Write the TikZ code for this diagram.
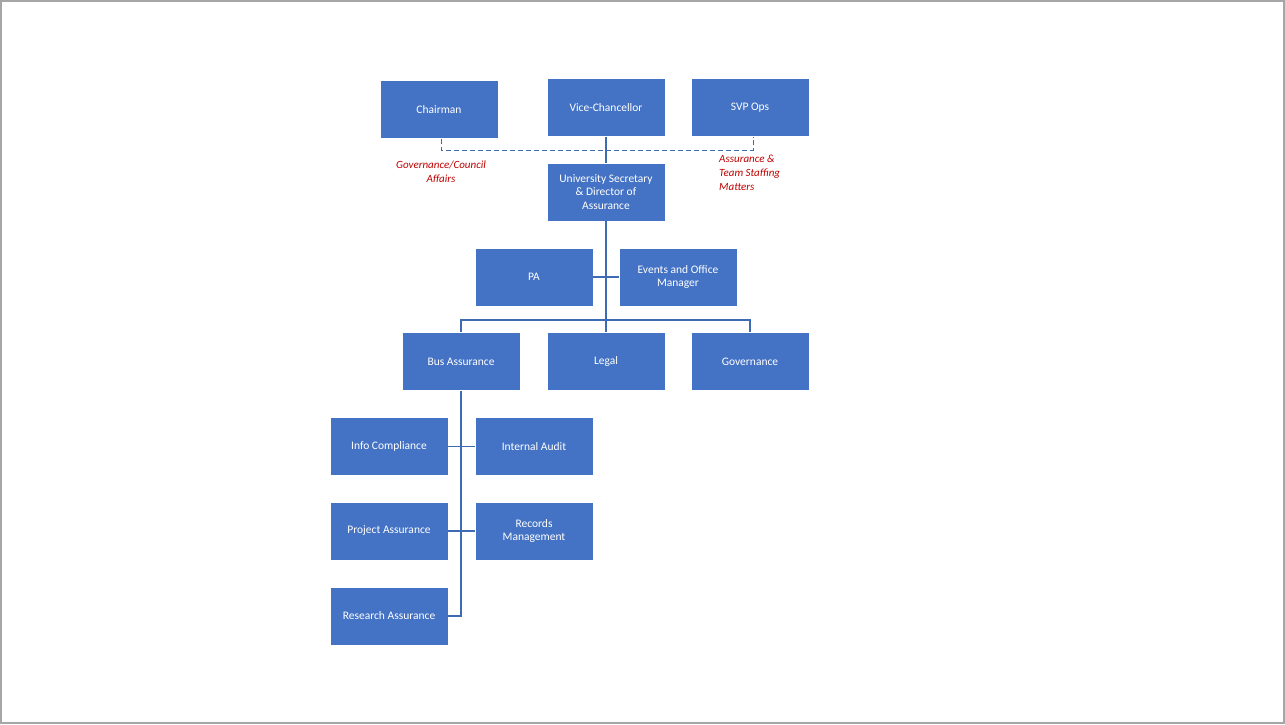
\documentclass[tikz,border=0pt]{standalone}
\usepackage{fontspec}
\setmainfont{Carlito}
\begin{document}
\begin{tikzpicture}[x=1pt,y=-1pt,
  box/.style={draw=white,line width=0.6pt,fill=boxblue,text=white,minimum width=118pt,minimum height=58pt,align=center,font=\fontsize{11.5}{13.5}\selectfont,inner sep=2pt},
  ln/.style={draw=lineblue,line width=1.2pt},
  note/.style={text=red!75!black,font=\itshape\fontsize{11}{14}\selectfont,align=left}]
\definecolor{boxblue}{HTML}{4472C4}
\definecolor{lineblue}{HTML}{3F6BB5}
\fill[white] (0,0) rectangle (1285,724);
\draw[gray!70,line width=1.5pt] (1,1) rectangle (1284,723);
\node[box] (ch) at (439,109.5) {Chairman};
\node[box] (vc) at (606,107.5) {Vice-Chancellor};
\node[box] (svp) at (750,107.5) {SVP Ops};
\node[box] (us) at (606,192) {University Secretary\\ \& Director of\\ Assurance};
\node[box] (pa) at (534,277) {PA};
\node[box] (ev) at (678,277) {Events and Office\\ Manager};
\node[box] (bus) at (461,361.5) {Bus Assurance};
\node[box] (le) at (606,361.5) {Legal};
\node[box] (gov) at (750,361.5) {Governance};
\node[box] (ic) at (389,446.5) {Info Compliance};
\node[box] (ia) at (534,446.5) {Internal Audit};
\node[box] (pj) at (389,531) {Project Assurance};
\node[box] (rm) at (534,531) {Records\\ Management};
\node[box] (ra) at (389,616) {Research Assurance};
\coordinate (dl) at (441,150);
\coordinate (dr) at (753,150);
\draw[ln,dashed,line width=1pt,dash pattern=on 5pt off 3pt] (ch.south -| dl) -- (dl) -- (dr) -- (svp.south -| dr);
\draw[ln] (vc) -- (us);
\coordinate (j1) at (606,277);
\coordinate (j2) at (606,320);
\draw[ln] (us.south) -- (j2);
\draw[ln] (pa.east) -- (ev.west);
\draw[ln] (bus.north) |- (j2) -| (gov.north);
\draw[ln] (j2) -- (le.north);
\coordinate (b3) at (461,616);
\draw[ln] (bus.south) -- (b3) -- (ra.east);
\draw[ln] (ic.east) -- (ia.west);
\draw[ln] (pj.east) -- (rm.west);
\node[note,align=center] (n1) at (441,172) {Governance/Council\\ Affairs};
\node[note,anchor=north west,inner sep=0pt] (n2) at (719,155) {Assurance \&\\ Team Staffing\\ Matters};
\end{tikzpicture}
\end{document}
